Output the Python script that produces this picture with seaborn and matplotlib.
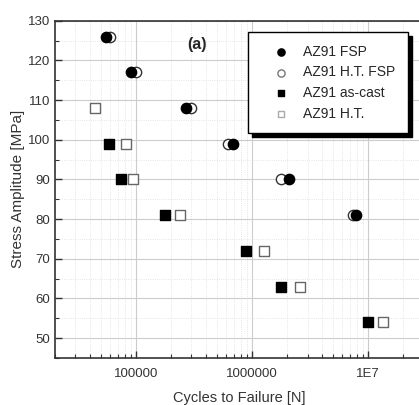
import numpy as np
import pandas as pd
import seaborn as sns
import matplotlib.pyplot as plt
from matplotlib.ticker import LogLocator, MultipleLocator, FixedLocator, FixedFormatter

# data
fsp_cycles = [55000, 91000, 268000, 684000, 2090000, 7800000]
fsp_stress = [126, 117, 108, 99, 90, 81]
htfsp_cycles = [59800, 100000, 296000, 618000, 1760000, 7400000]
htfsp_stress = [126, 117, 108, 99, 90, 81]
cast_cycles = [58900, 74000, 177000, 890000, 1770000, 9860000]
cast_stress = [99, 90, 81, 72, 63, 54]
ht_cycles = [44300, 81800, 93500, 238000, 1270000, 2570000, 13400000]
ht_stress = [108, 99, 90, 81, 72, 63, 54]

sns.set_style('white')
plt.rcParams['font.family'] = ['Liberation Sans', 'DejaVu Sans']

fig = plt.figure(figsize=(4.19, 4.05), dpi=100)
ax = fig.add_axes([0.131, 0.116, 0.88, 0.833])

sns.scatterplot(x=fsp_cycles, y=fsp_stress, ax=ax, marker='o', s=55,
                color='black', edgecolor='black', linewidth=1, label='AZ91 FSP', zorder=4)
sns.scatterplot(x=htfsp_cycles, y=htfsp_stress, ax=ax, marker='o', s=55,
                facecolor='white', edgecolor='#333333', linewidth=1, label='AZ91 H.T. FSP', zorder=3)
sns.scatterplot(x=cast_cycles, y=cast_stress, ax=ax, marker='s', s=45,
                color='black', edgecolor='black', linewidth=1, label='AZ91 as-cast', zorder=4)
sns.scatterplot(x=ht_cycles, y=ht_stress, ax=ax, marker='s', s=45,
                facecolor='white', edgecolor='#666666', linewidth=1, label='AZ91 H.T.', zorder=3)

ax.set_xscale('log')
ax.set_xlim(2e4, 3e7)
ax.set_ylim(45, 130)

ax.xaxis.set_major_locator(FixedLocator([1e5, 1e6, 1e7]))
ax.xaxis.set_major_formatter(FixedFormatter(['100000', '1000000', '1E7']))
ax.xaxis.set_minor_locator(LogLocator(base=10, subs=np.arange(2, 10)))
ax.xaxis.set_minor_formatter(plt.NullFormatter())
ax.yaxis.set_major_locator(MultipleLocator(10))
ax.yaxis.set_minor_locator(MultipleLocator(5))

ax.grid(True, which='major', color='#cccccc', linewidth=0.8)
ax.grid(True, which='minor', color='#dddddd', linewidth=0.6, linestyle=':')
ax.set_axisbelow(True)

ax.tick_params(which='both', direction='in', bottom=True, left=True, top=False, right=False,
               colors='#333333', labelsize=9.5)
ax.tick_params(axis='x', which='major', pad=7)
ax.tick_params(which='major', length=5, width=1)
ax.tick_params(which='minor', length=3, width=0.8)
for s in ['left', 'bottom', 'top']:
    ax.spines[s].set_color('#333333')
    ax.spines[s].set_linewidth(1.2)
ax.spines['right'].set_visible(False)

ax.set_xlabel('Cycles to Failure [N]', fontsize=10.5, color='#333333', labelpad=8)
ax.set_ylabel('Stress Amplitude [MPa]', fontsize=11, color='#333333', labelpad=2)
ax.text(0.385, 0.93, '(a)', transform=ax.transAxes, fontsize=11.5, fontweight='bold',
        ha='center', va='center')

leg = ax.legend(loc='upper left', bbox_to_anchor=(0.523, 0.966), frameon=True, fancybox=False,
                shadow={'color': 'black', 'alpha': 1, 'ox': 3, 'oy': -3},
                fontsize=10, markerscale=0.7, borderpad=0.9, handlelength=3.0,
                handletextpad=0.1, labelspacing=0.48, borderaxespad=0)
leg.get_frame().set_edgecolor('black')
leg.get_frame().set_linewidth(1)
handles = leg.legend_handles
handles[1].set_edgecolor('#777777')
handles[3].set_edgecolor('#aaaaaa')

fig.savefig('out.png', dpi=100)
